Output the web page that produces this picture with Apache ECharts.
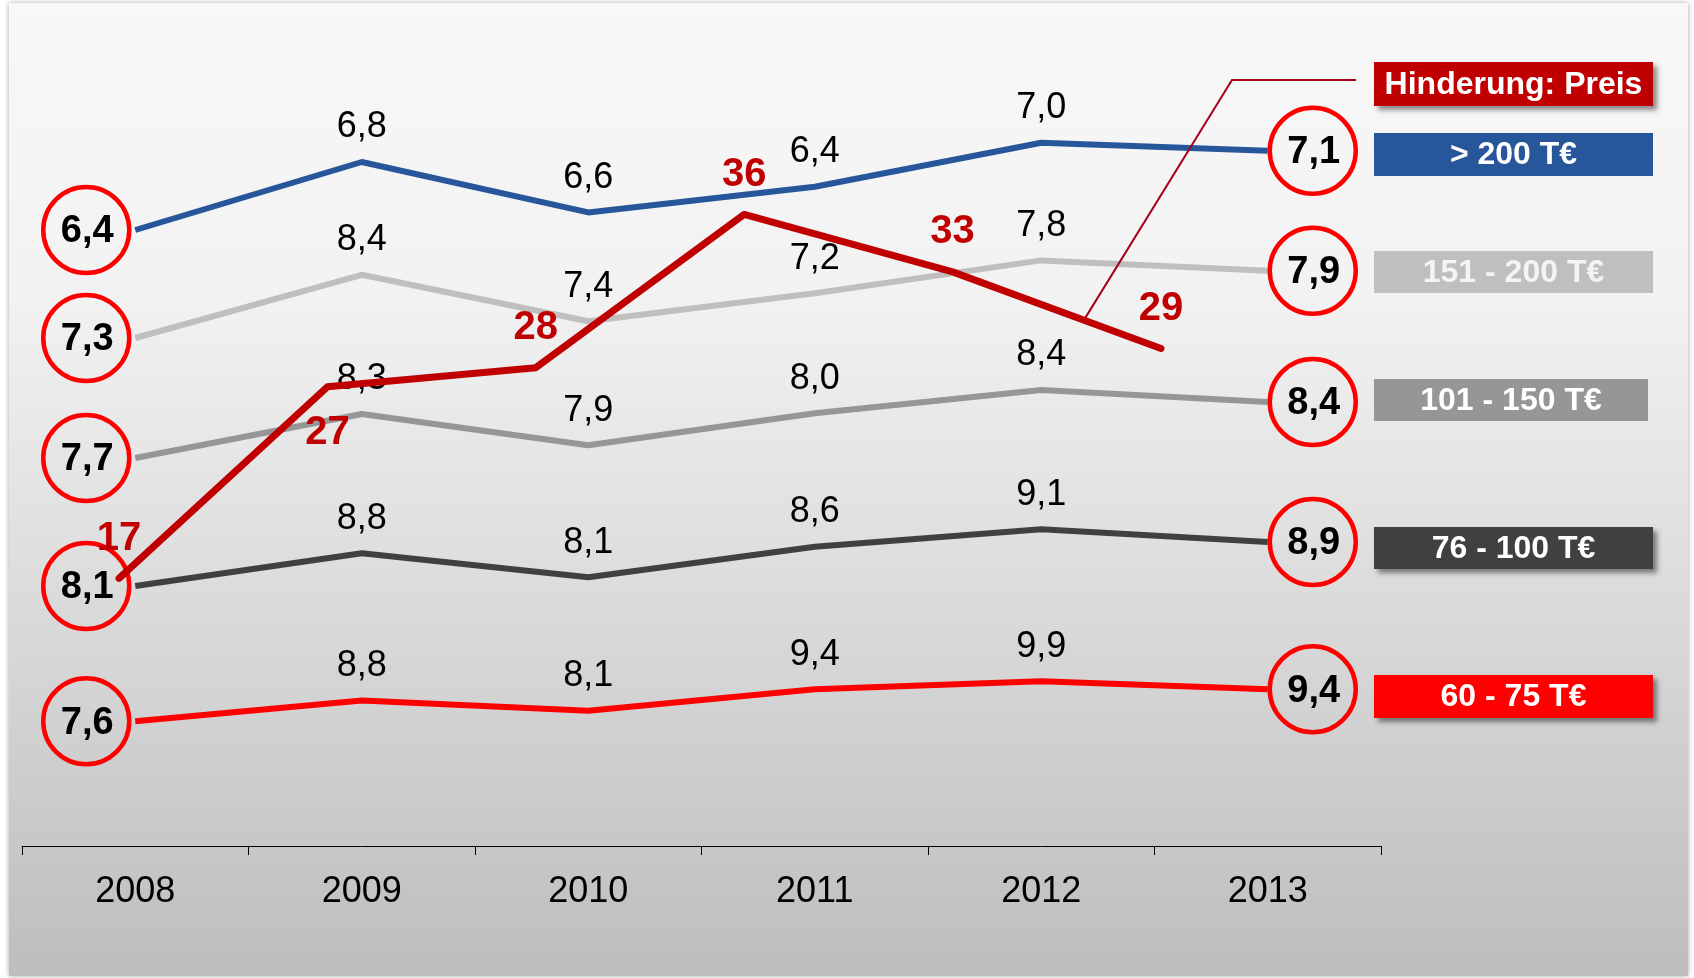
<!DOCTYPE html>
<html><head><meta charset="utf-8">
<script src="https://cdn.jsdelivr.net/npm/echarts@6/dist/echarts.min.js"></script>
<style>html,body{margin:0;padding:0;background:#fff;}#c{width:1694px;height:978px;}</style>
</head><body><div id="c"></div>
<script>
// ---------------- data ----------------
const years = ['2008', '2009', '2010', '2011', '2012', '2013'];

// plotted height of each band line as drawn in the picture (hidden 0–100 scale)
const lvlOver200 = [77.0, 85.5, 79.2, 82.4, 87.9, 86.9];
const lvl151_200 = [63.5, 71.4, 65.6, 69.1, 73.2, 71.9];
const lvl101_150 = [48.5, 54.0, 50.1, 54.1, 57.0, 55.5];
const lvl76_100  = [32.5, 36.6, 33.6, 37.4, 39.6, 38.0];
const lvl60_75   = [15.6, 18.2, 16.9, 19.6, 20.6, 19.6];

// printed values of each band
const valOver200 = [6.4, 6.8, 6.6, 6.4, 7.0, 7.1];
const val151_200 = [7.3, 8.4, 7.4, 7.2, 7.8, 7.9];
const val101_150 = [7.7, 8.3, 7.9, 8.0, 8.4, 8.4];
const val76_100  = [8.1, 8.8, 8.1, 8.6, 9.1, 8.9];
const val60_75   = [7.6, 8.8, 8.1, 9.4, 9.9, 9.4];

// Hinderung: Preis
const preis = [17, 27, 28, 36, 33, 29];

const bandNames = ['> 200 T€', '151 - 200 T€', '101 - 150 T€', '76 - 100 T€', '60 - 75 T€'];
const preisName = 'Hinderung: Preis';

// ---------------- styling ----------------
const FONT = '"Liberation Sans", Arial, Helvetica, sans-serif';
const bandColors = ['#27569b', '#bfbfbf', '#969696', '#404040', '#ff0000'];
const boxText = ['#ffffff', '#f4f4f4', '#ffffff', '#ffffff', '#ffffff'];
const boxTops = [133, 251, 379, 527, 675];
const boxH = [43, 42, 42, 42, 43];
const boxW = [279, 279, 274, 279, 279];
const boxShadow = [false, false, false, true, true];
const PREIS_COLOR = '#c00000';

const fmt = v => v.toFixed(1).replace('.', ',');

const levels = [lvlOver200, lvl151_200, lvl101_150, lvl76_100, lvl60_75];
const values = [valOver200, val151_200, val101_150, val76_100, val60_75];

function bandSeries(i) {
  const lv = levels[i], vals = values[i];
  const n = lv.length;
  const data = lv.map((v, k) => {
    const item = { value: v, label: { formatter: fmt(vals[k]) } };
    if (k === 0 || k === n - 1) {
      item.symbol = 'circle';
      item.symbolSize = 86;
      item.symbolOffset = [k === 0 ? -49 : 45, 0];
      item.itemStyle = { color: 'rgba(0,0,0,0)', borderColor: '#ff0000', borderWidth: 4.5 };
      item.label = {
        formatter: fmt(vals[k]), position: 'inside', fontWeight: 'bold',
        fontSize: 38, color: '#000', distance: 0, offset: [1, 2]
      };
    }
    return item;
  });
  return {
    type: 'line', name: bandNames[i], xAxisIndex: 0, yAxisIndex: 0,
    data, symbol: 'circle', symbolSize: 1, showSymbol: true, clip: false,
    itemStyle: { color: 'rgba(0,0,0,0)' },
    lineStyle: { color: bandColors[i], width: 6 },
    label: {
      show: true, position: 'top', distance: 16, fontSize: 36, lineHeight: 36,
      color: '#000', fontFamily: FONT
    },
    emphasis: { disabled: true }, z: 3
  };
}

const preisSeries = {
  type: 'line', name: preisName, xAxisIndex: 1, yAxisIndex: 1,
  data: preis.map((v, k) => ({
    value: v,
    label: k === 1 ? { position: 'bottom', distance: 26 } : {}
  })),
  symbol: 'circle', symbolSize: 1, clip: false,
  itemStyle: { color: 'rgba(0,0,0,0)' },
  lineStyle: { color: PREIS_COLOR, width: 7, cap: 'round', join: 'round' },
  label: {
    show: true, position: 'top', distance: 19, fontSize: 40, lineHeight: 40,
    fontWeight: 'bold', color: PREIS_COLOR, fontFamily: FONT
  },
  emphasis: { disabled: true }, z: 5
};

const chart = echarts.init(document.getElementById('c'), null, { renderer: 'canvas' });

const option = {
  animation: false,
  backgroundColor: '#ffffff',
  textStyle: { fontFamily: FONT },
  grid: [
    { left: 22, right: 313, top: 46, bottom: 132, outerBoundsMode: 'none' },
    { left: 119, right: 533, top: 42, bottom: 74, outerBoundsMode: 'none' }
  ],
  xAxis: [
    {
      type: 'category', gridIndex: 0, data: years, boundaryGap: true,
      axisLine: { show: true, lineStyle: { color: '#000', width: 1 } },
      axisTick: { show: true, length: 9, lineStyle: { color: '#000', width: 1 } },
      axisLabel: { fontSize: 36, lineHeight: 36, color: '#000', margin: 28, fontFamily: FONT },
      splitLine: { show: false }
    },
    { type: 'category', gridIndex: 1, data: years, boundaryGap: false, show: false }
  ],
  yAxis: [
    { type: 'value', gridIndex: 0, min: 0, max: 100, show: false, splitLine: { show: false } },
    { type: 'value', gridIndex: 1, min: 0, max: 45, show: false, splitLine: { show: false } }
  ],
  series: [0, 1, 2, 3, 4].map(bandSeries).concat([preisSeries])
};
chart.setOption(option);

// ---------------- decorations ----------------
const graphics = [];
graphics.push({
  type: 'rect', z: -10, silent: true,
  shape: { x: 9, y: 3, width: 1679, height: 973 },
  style: {
    fill: new echarts.graphic.LinearGradient(0, 0, 0, 1, [
      { offset: 0, color: '#f8f8f8' },
      { offset: 0.3, color: '#f2f2f2' },
      { offset: 0.6, color: '#dcdcdc' },
      { offset: 1, color: '#bdbdbd' }
    ]),
    shadowBlur: 5, shadowColor: 'rgba(0,0,0,0.35)'
  }
});

function box(x, y, w, h, fill, text, color, shadow) {
  return {
    type: 'group', z: 20, children: [
      {
        type: 'rect', shape: { x, y, width: w, height: h },
        style: shadow ? { fill, shadowBlur: 5, shadowOffsetX: 4, shadowOffsetY: 4, shadowColor: 'rgba(0,0,0,0.45)' } : { fill }
      },
      {
        type: 'text', z2: 5,
        style: {
          x: x + w / 2, y: y + h / 2 + 1, text, fill: color,
          font: 'bold 32px ' + FONT, textAlign: 'center', textVerticalAlign: 'middle'
        }
      }
    ]
  };
}

graphics.push(box(1374, 62, 279, 44, PREIS_COLOR, preisName, '#ffffff', true));
for (let i = 0; i < 5; i++) {
  graphics.push(box(1374, boxTops[i], boxW[i], boxH[i], bandColors[i], bandNames[i], boxText[i], boxShadow[i]));
}

// leader line from the Hinderung box to the price line
const pA = chart.convertToPixel({ xAxisIndex: 1, yAxisIndex: 1 }, [4, preis[4]]);
const pB = chart.convertToPixel({ xAxisIndex: 1, yAxisIndex: 1 }, [5, preis[5]]);
const t = 0.63;
const pEnd = [pA[0] + (pB[0] - pA[0]) * t, pA[1] + (pB[1] - pA[1]) * t];
graphics.push({
  type: 'polyline', z: 4, silent: true,
  shape: { points: [[1356, 80], [1232, 80], pEnd] },
  style: { stroke: '#a8001c', lineWidth: 2, fill: null }
});

chart.setOption({ graphic: graphics });
</script></body></html>
